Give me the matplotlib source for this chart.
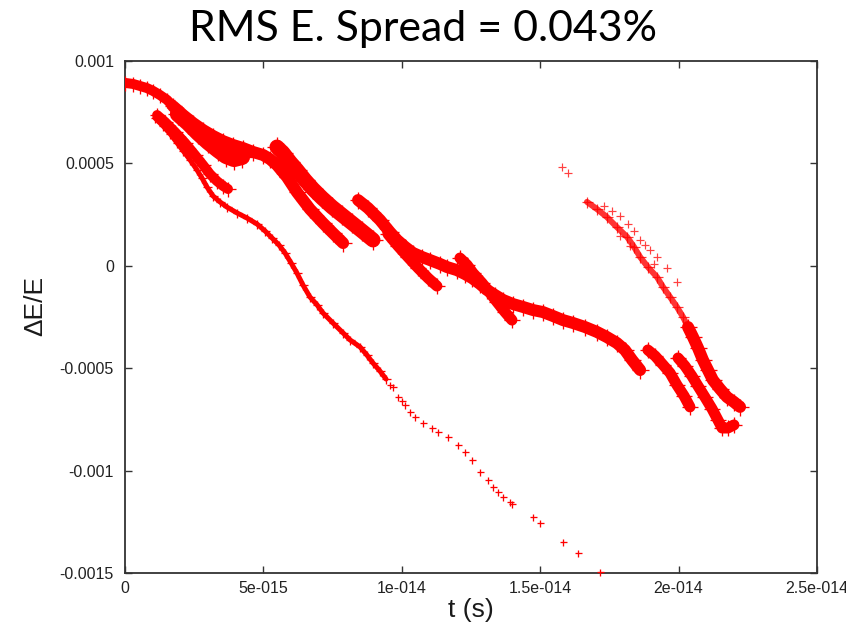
import matplotlib
matplotlib.use("Agg")
import matplotlib.pyplot as plt

# ---------------- data (t in fs -> x1e-15 s, dE/E in units of 1e-4) ----------------
T_UNIT = 1e-15
D_UNIT = 1e-4

title_text = "RMS E. Spread = 0.043%"
x_label = "t (s)"
y_label = "\u0394E/E"
x_ticks = [0, 5e-15, 1e-14, 1.5e-14, 2e-14, 2.5e-14]
x_tick_labels = ["0", "5e-015", "1e-014", "1.5e-014", "2e-014", "2.5e-014"]
y_ticks = [0.001, 0.0005, 0, -0.0005, -0.001, -0.0015]
y_tick_labels = ["0.001", "0.0005", "0", "-0.0005", "-0.001", "-0.0015"]

# start of the bunch (all bands merged)
band_a_t = [0, 0.29, 0.54, 0.79, 1.01, 1.26, 1.52, 1.73]
band_a_d = [8.93, 8.88, 8.78, 8.68, 8.54, 8.34, 8.10, 7.80]

# upper band with the plateau near 5e-4
band_t1_t = [1.73, 2.10, 2.46, 2.82, 3.18, 3.54, 3.90, 4.26, 4.62, 4.99, 5.24, 5.49,
             5.85, 6.21, 6.68, 7.15, 7.51, 7.88]
band_t1_d = [7.80, 7.36, 6.97, 6.63, 6.34, 6.09, 5.90, 5.75, 5.56, 5.41, 5.21, 4.92,
             4.34, 3.60, 2.77, 2.09, 1.60, 1.11]

# wedge body below the upper band
band_w_t = [1.91, 2.28, 2.64, 3.00, 3.36, 3.65, 3.94, 4.23]
band_w_d = [7.41, 6.97, 6.48, 6.04, 5.65, 5.36, 5.21, 5.31]

# short middle branch
band_m_t = [1.16, 1.45, 1.81, 2.17, 2.53, 2.82, 3.07, 3.32, 3.54, 3.72]
band_m_d = [7.36, 7.02, 6.53, 6.00, 5.41, 4.92, 4.48, 4.14, 3.90, 3.75]

# long lower tail (dense part)
tail_t = [1.08, 1.37, 1.63, 1.88, 2.10, 2.35, 2.60, 2.78, 2.96, 3.18, 3.43, 3.68,
          4.05, 4.41, 4.77, 5.06, 5.31, 5.56, 5.78, 6.00, 6.21, 6.43, 6.68, 6.94,
          7.15, 7.51, 7.88, 8.13, 8.49, 8.74, 8.96, 9.21, 9.43]
tail_d = [7.22, 6.83, 6.44, 6.00, 5.61, 5.17, 4.68, 4.29, 3.85, 3.41, 3.12, 2.87,
          2.58, 2.33, 2.04, 1.70, 1.36, 1.02, 0.63, 0.14, -0.35, -0.94, -1.52, -1.91,
          -2.30, -2.79, -3.28, -3.62, -3.96, -4.36, -4.75, -5.14, -5.53]

# long lower tail (sparse single points)
tail_pts_t = [9.57, 9.68, 9.86, 10.01, 10.12, 10.30, 10.48, 10.77, 11.09, 11.31, 11.67,
              12.03, 12.28, 12.54, 12.83, 13.11, 13.29, 13.48, 13.66, 13.91, 13.98,
              14.74, 14.99, 15.82, 16.37, 17.16]
tail_pts_d = [-5.82, -5.92, -6.41, -6.60, -6.80, -7.14, -7.38, -7.68, -7.92, -8.12, -8.36,
              -8.75, -9.09, -9.48, -10.07, -10.46, -10.80, -11.04, -11.29, -11.53, -11.63,
              -12.27, -12.56, -13.49, -14.02, -14.95]

# steep band starting near 5.5e-15
band_b_t = [5.49, 5.71, 5.96, 6.21, 6.50, 6.79, 7.12, 7.48, 7.84, 8.20, 8.56, 8.96]
band_b_d = [5.80, 5.51, 5.07, 4.68, 4.19, 3.75, 3.31, 2.87, 2.48, 2.09, 1.70, 1.26]

# main band through the middle
band_c_t = [8.42, 8.78, 9.21, 9.57, 9.83, 10.12, 10.40, 10.73, 11.02, 11.38, 11.63, 11.99,
            12.28, 12.54, 12.83, 13.08, 13.37, 13.66, 14.02, 14.38, 14.74, 15.10, 15.46,
            15.82, 16.18, 16.62, 17.05, 17.41, 17.77, 18.06, 18.32, 18.61]
band_c_d = [3.21, 2.82, 2.24, 1.65, 1.26, 0.92, 0.63, 0.43, 0.28, 0.09, -0.06, -0.21,
            -0.40, -0.60, -0.89, -1.18, -1.43, -1.67, -1.87, -2.01, -2.16, -2.26, -2.45,
            -2.65, -2.79, -2.99, -3.23, -3.48, -3.77, -4.11, -4.60, -5.09]

band_c2_t = [9.50, 9.86, 10.22, 10.59, 10.95, 11.27]
band_c2_d = [1.55, 0.97, 0.43, -0.11, -0.60, -0.99]

band_d_t = [12.10, 12.36, 12.57, 12.90, 13.19, 13.44, 13.73, 13.98]
band_d_d = [0.38, 0.04, -0.35, -0.84, -1.33, -1.77, -2.26, -2.65]

band_f_t = [18.89, 19.15, 19.44, 19.69, 19.94, 20.20, 20.41]
band_f_d = [-4.11, -4.40, -4.84, -5.23, -5.82, -6.36, -6.89]

band_g_t = [19.98, 20.23, 20.48, 20.70, 20.95, 21.21, 21.42, 21.57, 21.78, 22.00]
band_g_d = [-4.50, -4.89, -5.38, -5.87, -6.41, -6.99, -7.53, -7.92, -7.92, -7.77]

# sparse band at upper right (upper part) and its dense lower part
band_h_t = [16.69, 17.05, 17.41, 17.77, 18.14, 18.39, 18.61, 18.89, 19.22, 19.44, 19.69,
            19.94, 20.16, 20.34]
band_h_d = [3.12, 2.77, 2.38, 1.89, 1.41, 0.92, 0.43, -0.06, -0.55, -1.04, -1.52,
            -2.01, -2.50, -2.99]
band_h2_t = [20.34, 20.52, 20.70, 20.88, 21.06, 21.24, 21.50, 21.75, 22.00, 22.22]
band_h2_d = [-2.99, -3.48, -4.01, -4.60, -5.09, -5.58, -6.02, -6.41, -6.65, -6.89]

scatter_t = [17.59, 17.88, 18.17, 18.61, 18.97, 19.22, 19.58, 19.94, 17.88, 18.24,
             17.30, 18.40, 18.80, 19.10, 15.79, 16.00]
scatter_d = [2.68, 2.43, 2.04, 1.26, 0.77, 0.43, -0.11, -0.79, 1.46, 0.97,
             2.90, 1.70, 1.00, 0.10, 4.82, 4.53]

# ---------------- figure ----------------
W, H, DPI = 846, 634, 100
fig = plt.figure(figsize=(W / DPI, H / DPI), dpi=DPI)
ax = fig.add_axes([125 / W, 1 - 573 / H, 692 / W, 512 / H])

RED = "#ff0000"
PX = 72.0 / DPI  # points per pixel


def band(t, d, width_px, marker_px=None, mew_px=1.3, alpha=1.0):
    tt = [v * T_UNIT for v in t]
    dd = [v * D_UNIT for v in d]
    ax.plot(tt, dd, "-", color=RED, lw=width_px * PX, solid_capstyle="round",
            solid_joinstyle="round", alpha=alpha, zorder=3)
    if marker_px is None:
        marker_px = width_px + 5
    ax.plot(tt, dd, "+", color=RED, ms=marker_px * PX, mew=mew_px * PX,
            alpha=alpha, zorder=3)


def points(t, d, marker_px=7, mew_px=1.3, alpha=1.0):
    ax.plot([v * T_UNIT for v in t], [v * D_UNIT for v in d], "+", color=RED,
            ms=marker_px * PX, mew=mew_px * PX, alpha=alpha, zorder=3, clip_on=False)


band(band_a_t, band_a_d, 10)
band(band_t1_t, band_t1_d, 12)
band(band_w_t, band_w_d, 16)
band(band_m_t, band_m_d, 10)
band(tail_t, tail_d, 5, marker_px=9)
points(tail_pts_t, tail_pts_d, marker_px=7)
band(band_b_t, band_b_d, 15)
band(band_c_t, band_c_d, 12)
band(band_c2_t, band_c2_d, 11)
band(band_d_t, band_d_d, 11)
band(band_f_t, band_f_d, 11)
band(band_g_t, band_g_d, 11)
band(band_h_t, band_h_d, 6, marker_px=11, mew_px=1.2, alpha=0.8)
band(band_h2_t, band_h2_d, 12)
points(scatter_t, scatter_d, marker_px=8, mew_px=1.2, alpha=0.75)

ax.set_xlim(0, 2.5e-14)
ax.set_ylim(-0.0015, 0.001)

tick_font = dict(family="Liberation Sans", size=11.5, color="#222222")
ax.set_xticks(x_ticks)
ax.set_xticklabels(x_tick_labels, **tick_font)
ax.set_yticks(y_ticks)
ax.set_yticklabels(y_tick_labels, **tick_font)
ax.minorticks_off()
ax.tick_params(direction="in", length=5, width=1.0, color="#333333",
               top=True, right=True, pad=8)
ax.tick_params(axis="x", pad=6)
for s in ax.spines.values():
    s.set_color("#333333")
    s.set_linewidth(1.3)

ax.set_xlabel(x_label, family="Liberation Sans", size=19, color="#1a1a1a", va="center")
ax.xaxis.set_label_coords(0.5, (573 - 610) / 512)
ax.set_ylabel(y_label, family="Liberation Sans", size=19, color="#1a1a1a",
              va="center", ha="center")
ax.yaxis.set_label_coords((35 - 125) / 692, (573 - 306) / 512)

# title, sized so that its width matches the reference
title = fig.text(0.5, 1 - 41 / H, title_text, ha="center", va="baseline",
                 family="Lato", fontsize=30, color="black")
fig.canvas.draw()
wpx = title.get_window_extent(fig.canvas.get_renderer()).width
title.set_fontsize(30 * 467.0 / wpx)

fig.savefig("out.png", dpi=DPI)
